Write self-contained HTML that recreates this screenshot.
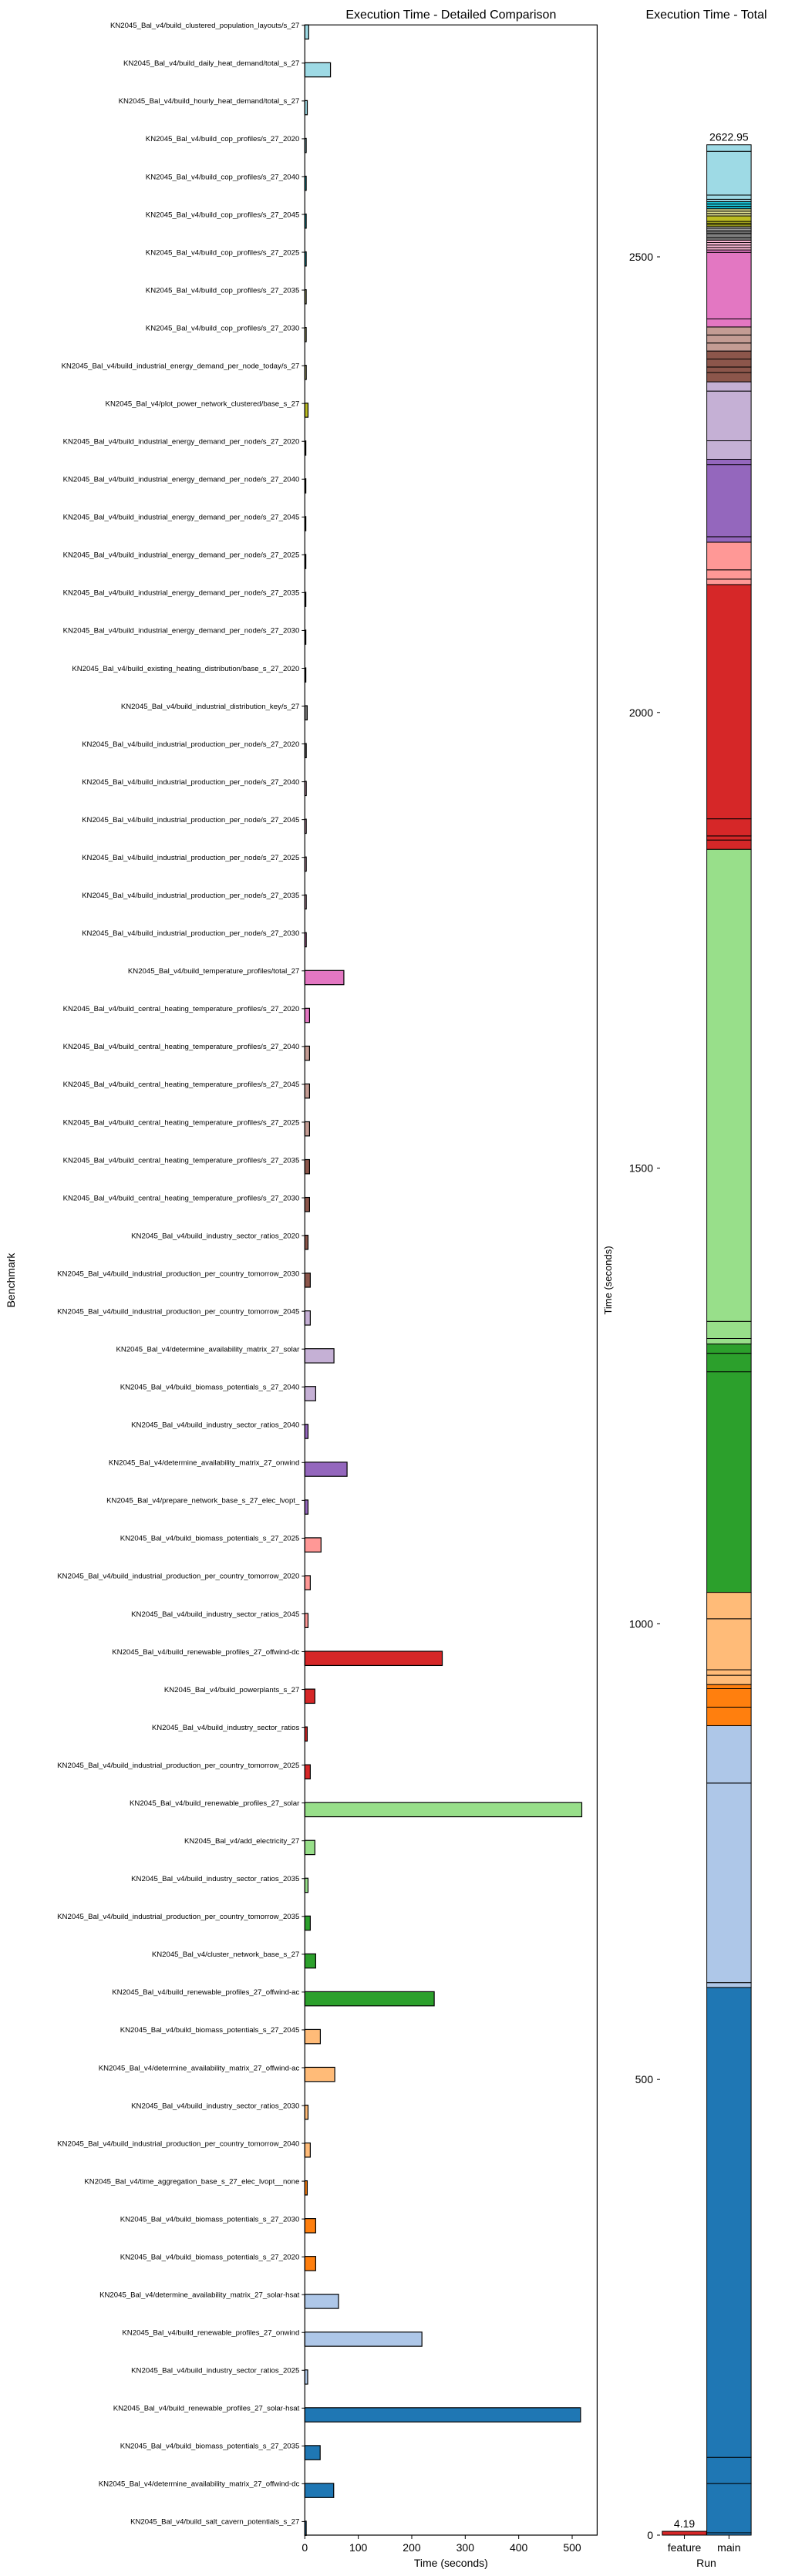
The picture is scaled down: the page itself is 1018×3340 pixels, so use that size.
<!DOCTYPE html>
<html><head><meta charset="utf-8"><style>
html,body{margin:0;padding:0;background:#fff;}
svg{display:block;font-family:"Liberation Sans","DejaVu Sans",sans-serif;}
</style></head><body>
<svg id="chart" width="1018" height="3340" viewBox="0 0 1018 3340" xmlns="http://www.w3.org/2000/svg">
<g id="detail"></g>
<g id="total"></g>
</svg>
<script>
const benchmarks = [
"KN2045_Bal_v4/build_clustered_population_layouts/s_27",
"KN2045_Bal_v4/build_daily_heat_demand/total_s_27",
"KN2045_Bal_v4/build_hourly_heat_demand/total_s_27",
"KN2045_Bal_v4/build_cop_profiles/s_27_2020",
"KN2045_Bal_v4/build_cop_profiles/s_27_2040",
"KN2045_Bal_v4/build_cop_profiles/s_27_2045",
"KN2045_Bal_v4/build_cop_profiles/s_27_2025",
"KN2045_Bal_v4/build_cop_profiles/s_27_2035",
"KN2045_Bal_v4/build_cop_profiles/s_27_2030",
"KN2045_Bal_v4/build_industrial_energy_demand_per_node_today/s_27",
"KN2045_Bal_v4/plot_power_network_clustered/base_s_27",
"KN2045_Bal_v4/build_industrial_energy_demand_per_node/s_27_2020",
"KN2045_Bal_v4/build_industrial_energy_demand_per_node/s_27_2040",
"KN2045_Bal_v4/build_industrial_energy_demand_per_node/s_27_2045",
"KN2045_Bal_v4/build_industrial_energy_demand_per_node/s_27_2025",
"KN2045_Bal_v4/build_industrial_energy_demand_per_node/s_27_2035",
"KN2045_Bal_v4/build_industrial_energy_demand_per_node/s_27_2030",
"KN2045_Bal_v4/build_existing_heating_distribution/base_s_27_2020",
"KN2045_Bal_v4/build_industrial_distribution_key/s_27",
"KN2045_Bal_v4/build_industrial_production_per_node/s_27_2020",
"KN2045_Bal_v4/build_industrial_production_per_node/s_27_2040",
"KN2045_Bal_v4/build_industrial_production_per_node/s_27_2045",
"KN2045_Bal_v4/build_industrial_production_per_node/s_27_2025",
"KN2045_Bal_v4/build_industrial_production_per_node/s_27_2035",
"KN2045_Bal_v4/build_industrial_production_per_node/s_27_2030",
"KN2045_Bal_v4/build_temperature_profiles/total_27",
"KN2045_Bal_v4/build_central_heating_temperature_profiles/s_27_2020",
"KN2045_Bal_v4/build_central_heating_temperature_profiles/s_27_2040",
"KN2045_Bal_v4/build_central_heating_temperature_profiles/s_27_2045",
"KN2045_Bal_v4/build_central_heating_temperature_profiles/s_27_2025",
"KN2045_Bal_v4/build_central_heating_temperature_profiles/s_27_2035",
"KN2045_Bal_v4/build_central_heating_temperature_profiles/s_27_2030",
"KN2045_Bal_v4/build_industry_sector_ratios_2020",
"KN2045_Bal_v4/build_industrial_production_per_country_tomorrow_2030",
"KN2045_Bal_v4/build_industrial_production_per_country_tomorrow_2045",
"KN2045_Bal_v4/determine_availability_matrix_27_solar",
"KN2045_Bal_v4/build_biomass_potentials_s_27_2040",
"KN2045_Bal_v4/build_industry_sector_ratios_2040",
"KN2045_Bal_v4/determine_availability_matrix_27_onwind",
"KN2045_Bal_v4/prepare_network_base_s_27_elec_lvopt_",
"KN2045_Bal_v4/build_biomass_potentials_s_27_2025",
"KN2045_Bal_v4/build_industrial_production_per_country_tomorrow_2020",
"KN2045_Bal_v4/build_industry_sector_ratios_2045",
"KN2045_Bal_v4/build_renewable_profiles_27_offwind-dc",
"KN2045_Bal_v4/build_powerplants_s_27",
"KN2045_Bal_v4/build_industry_sector_ratios",
"KN2045_Bal_v4/build_industrial_production_per_country_tomorrow_2025",
"KN2045_Bal_v4/build_renewable_profiles_27_solar",
"KN2045_Bal_v4/add_electricity_27",
"KN2045_Bal_v4/build_industry_sector_ratios_2035",
"KN2045_Bal_v4/build_industrial_production_per_country_tomorrow_2035",
"KN2045_Bal_v4/cluster_network_base_s_27",
"KN2045_Bal_v4/build_renewable_profiles_27_offwind-ac",
"KN2045_Bal_v4/build_biomass_potentials_s_27_2045",
"KN2045_Bal_v4/determine_availability_matrix_27_offwind-ac",
"KN2045_Bal_v4/build_industry_sector_ratios_2030",
"KN2045_Bal_v4/build_industrial_production_per_country_tomorrow_2040",
"KN2045_Bal_v4/time_aggregation_base_s_27_elec_lvopt__none",
"KN2045_Bal_v4/build_biomass_potentials_s_27_2030",
"KN2045_Bal_v4/build_biomass_potentials_s_27_2020",
"KN2045_Bal_v4/determine_availability_matrix_27_solar-hsat",
"KN2045_Bal_v4/build_renewable_profiles_27_onwind",
"KN2045_Bal_v4/build_industry_sector_ratios_2025",
"KN2045_Bal_v4/build_renewable_profiles_27_solar-hsat",
"KN2045_Bal_v4/build_biomass_potentials_s_27_2035",
"KN2045_Bal_v4/determine_availability_matrix_27_offwind-dc",
"KN2045_Bal_v4/build_salt_cavern_potentials_s_27"
];
const mainTimes = [
7.2,48,4.6,2.6,2.6,2.6,2.6,2.6,2.6,2.7,6.0,1.9,1.9,1.9,1.9,1.9,1.9,1.9,4.5,2.7,
2.7,2.7,2.7,2.7,2.7,73,8.8,8.8,8.8,8.8,8.8,8.8,6.0,10.2,10.2,54.5,20.3,6.0,79,6.0,
30.3,10.2,6.0,257,18.8,4.5,10.2,518,18.8,6.0,10.2,20.3,242,29,56,6.0,10.2,4.5,20.3,20.3,
63,219,5.3,515.65,28.7,54,2.6
];
const runs = ["feature","main"];
const featureTotal = 4.19;
const xTicks = [0,100,200,300,400,500];
const yTicksTotal = [0,500,1000,1500,2000,2500];

const tab20 = ["#1f77b4","#aec7e8","#ff7f0e","#ffbb78","#2ca02c","#98df8a","#d62728","#ff9896","#9467bd","#c5b0d5","#8c564b","#c49c94","#e377c2","#f7b6d2","#7f7f7f","#c7c7c7","#bcbd22","#dbdb8d","#17becf","#9edae5"];
const NS="http://www.w3.org/2000/svg";
function mk(parent,tag,attrs,text){const e=document.createElementNS(NS,tag);for(const k in attrs)e.setAttribute(k,attrs[k]);if(text!==undefined)e.textContent=text;parent.appendChild(e);return e;}
const n = benchmarks.length;
function colorFor(i){
  const b = n-1-i; let c=Math.floor(b*20/(n-1)); if(c>19)c=19; return tab20[c];
}
const AX0=395.3, AX1=774.4, AY0=32.3, AY1=3287;
const xs=v=>AX0+v*0.6934;
const rowH=49.04, barH=18.4;
const yTop=i=>AY0+i*rowH;
const d=document.getElementById('detail');
mainTimes.forEach((v,i)=>{
  const r=mk(d,'rect',{x:AX0,y:yTop(i),width:Math.max(xs(v)-AX0,0.5),height:barH,fill:colorFor(i),stroke:'#000','stroke-width':1.2});
  
  
});
benchmarks.forEach((b,i)=>{
  const ty=yTop(i)+0.5;
  const t=mk(d,'line',{x1:AX0-4,x2:AX0,y1:ty,y2:ty,stroke:'#000','stroke-width':1});
  
  
  const l=mk(d,'text',{x:AX0-7,y:ty+3.3,'text-anchor':'end','font-size':'9.6px',fill:'#000'},b);
  
  
});
const frame=mk(d,'rect',{x:AX0,y:AY0,width:AX1-AX0,height:AY1-AY0,fill:'none',stroke:'#000','stroke-width':1.2});


xTicks.forEach(v=>{
  const t=mk(d,'line',{x1:xs(v),x2:xs(v),y1:AY1,y2:AY1+5,stroke:'#000','stroke-width':1});
  
  
  const l=mk(d,'text',{x:xs(v),y:AY1+21,'text-anchor':'middle','font-size':'14px'},String(v));
  
  
});
let e;
e=mk(d,'text',{x:(AX0+AX1)/2,y:3328,'text-anchor':'middle','font-size':'14px'},'Time (seconds)');


e=mk(d,'text',{x:0,y:0,'text-anchor':'middle','font-size':'14px',transform:'translate(19,1660) rotate(-90)'},'Benchmark');


e=mk(d,'text',{x:(AX0+AX1)/2,y:24,'text-anchor':'middle','font-size':'16px'},'Execution Time - Detailed Comparison');



const t=document.getElementById('total');
const ys=v=>AY1-v*1.1816;
const bx={feature:858.8, main:916.6}, bw=57.5;
const featBar=mk(t,'rect',{x:bx.feature,y:ys(featureTotal),width:bw,height:ys(0)-ys(featureTotal),fill:'#d62728',stroke:'#000','stroke-width':1});


let cum=0;
for(let i=n-1;i>=0;i--){
  const v=mainTimes[i];
  const r=mk(t,'rect',{x:bx.main,y:ys(cum+v),width:bw,height:ys(cum)-ys(cum+v),fill:colorFor(i),stroke:'#000','stroke-width':1});
  
  
  cum+=v;
}
e=mk(t,'text',{x:bx.feature+bw/2,y:ys(featureTotal)-5,'text-anchor':'middle','font-size':'14px'},featureTotal.toFixed(2));


e=mk(t,'text',{x:bx.main+bw/2,y:ys(cum)-5,'text-anchor':'middle','font-size':'14px'},cum.toFixed(2));


yTicksTotal.forEach(v=>{
  const tk=mk(t,'line',{x1:852,x2:856,y1:ys(v),y2:ys(v),stroke:'#000','stroke-width':1});
  
  
  const l=mk(t,'text',{x:847,y:ys(v)+5,'text-anchor':'end','font-size':'14px'},String(v));
  
  
});
runs.forEach(r=>{
  const cx=bx[r]+bw/2;
  const tk=mk(t,'line',{x1:cx,x2:cx,y1:AY1,y2:AY1+5,stroke:'#000','stroke-width':1});
  
  
  const l=mk(t,'text',{x:cx,y:AY1+21,'text-anchor':'middle','font-size':'14px'},r);
  
  
});
e=mk(t,'text',{x:916,y:3328,'text-anchor':'middle','font-size':'14px'},'Run');


e=mk(t,'text',{x:0,y:0,'text-anchor':'middle','font-size':'13px',transform:'translate(793,1660) rotate(-90)'},'Time (seconds)');


e=mk(t,'text',{x:916,y:24,'text-anchor':'middle','font-size':'16px'},'Execution Time - Total');


</script>
</body></html>
